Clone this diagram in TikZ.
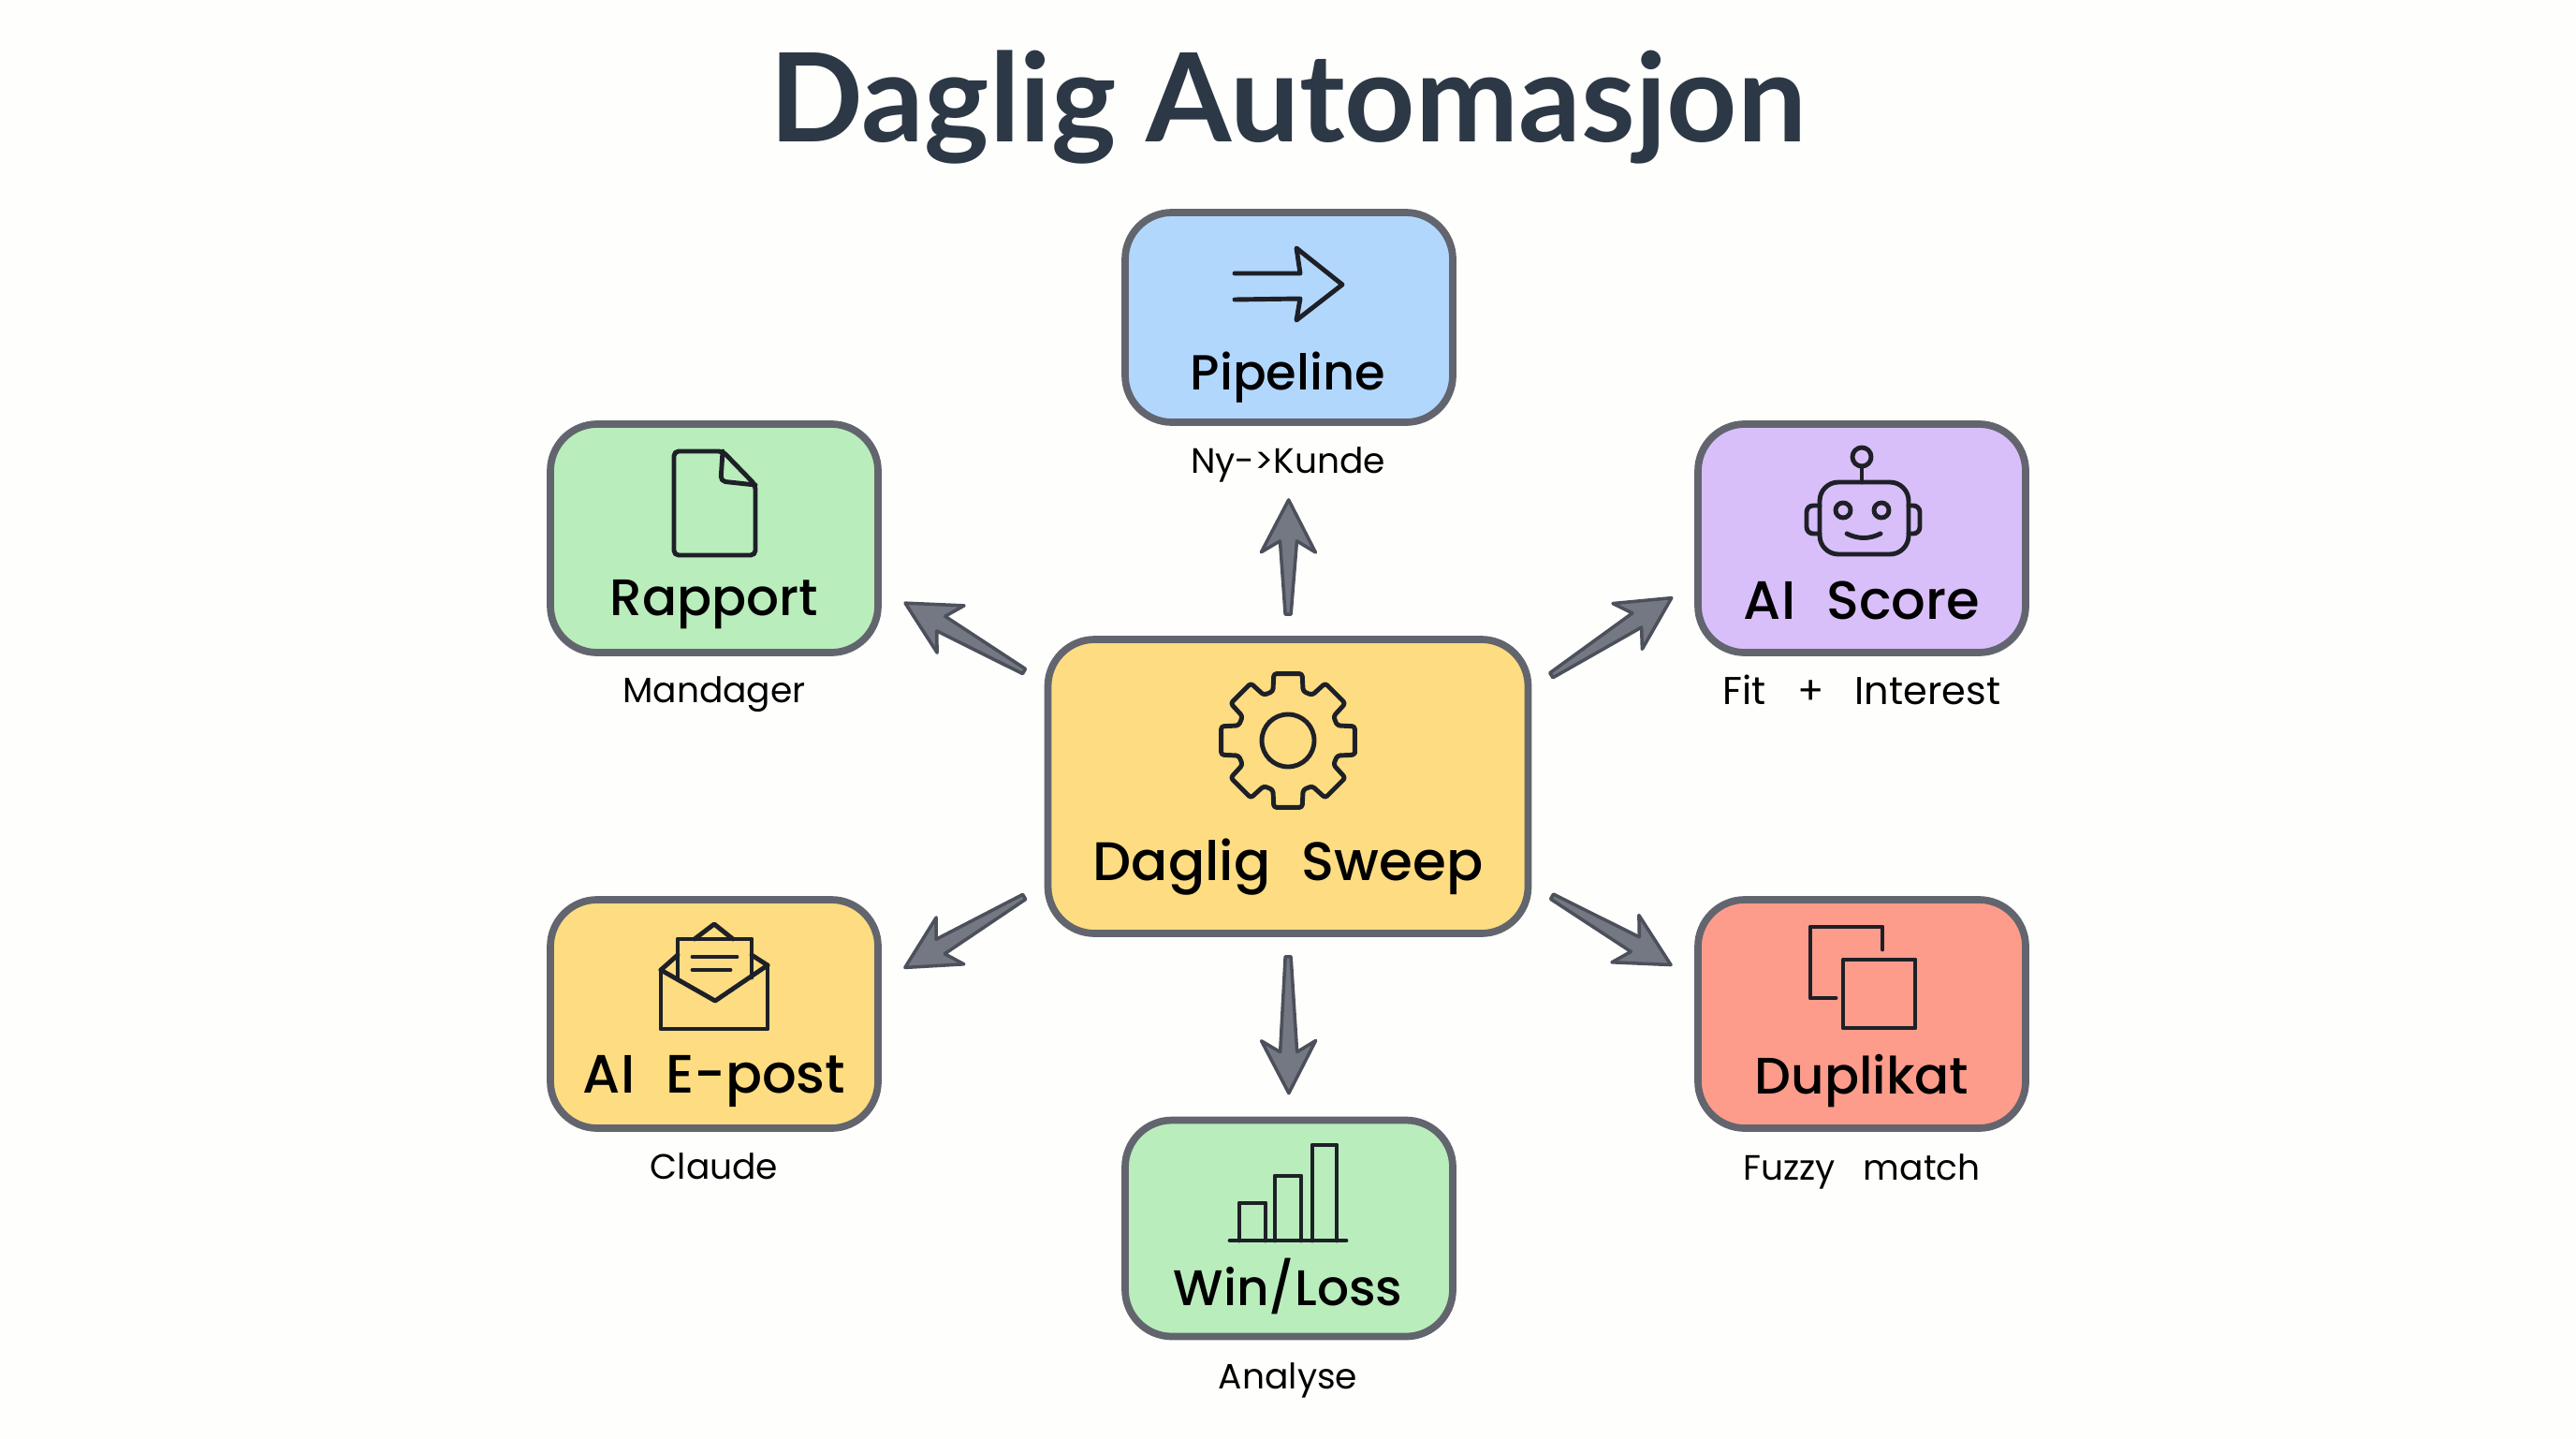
\documentclass[tikz,border=0pt]{standalone}
\usepackage{fontspec}
\usepackage{xcolor}
\usetikzlibrary{calc}
\setmainfont{Poppins}
\newfontfamily\namefont[WordSpace=2.2]{Poppins Medium}
\newfontfamily\notefont[WordSpace=3]{Poppins}
\newfontfamily\titlefont{Lato}

\definecolor{paper}{HTML}{FEFEFC}
\definecolor{inkline}{HTML}{62656E}
\definecolor{arrowfill}{HTML}{747883}
\definecolor{arrowline}{HTML}{4C505B}
\definecolor{titleink}{HTML}{2D3846}
\definecolor{iconink}{HTML}{1E2027}
\definecolor{boxblue}{HTML}{B2D7FD}
\definecolor{boxgreen}{HTML}{B9EDBC}
\definecolor{boxyellow}{HTML}{FDDC82}
\definecolor{boxpurple}{HTML}{D9BFFA}
\definecolor{boxred}{HTML}{FE9C8C}

\begin{document}
\begin{tikzpicture}[
    card/.style={
        rectangle,
        rounded corners=0.5cm,
        draw=inkline,
        line width=2.2pt,
        minimum width=3.5cm,
        minimum height=2.44cm,
        inner sep=0pt
    },
    cardname/.style={inner sep=0pt, text=black, font=\fontsize{15.6}{17}\namefont},
    cardnote/.style={inner sep=0pt, text=black, font=\fontsize{10.7}{12}\notefont},
    icon/.style={draw=iconink, line width=1.4pt, line join=round, line cap=round},
    flow/.style 2 args={
        fill=arrowfill,
        draw=arrowline,
        line width=1pt,
        line join=round,
        to path={
            ($(\tikztostart)!#1!(\tikztotarget)!0.03cm!90:(\tikztotarget)$)
            -- ($(\tikztotarget)!#2+0.44cm!(\tikztostart)!0.09cm!-90:(\tikztostart)$)
            -- ($(\tikztotarget)!#2+0.56cm!(\tikztostart)!0.29cm!-90:(\tikztostart)$)
            -- ($(\tikztotarget)!#2!(\tikztostart)$)
            -- ($(\tikztotarget)!#2+0.56cm!(\tikztostart)!0.29cm!90:(\tikztostart)$)
            -- ($(\tikztotarget)!#2+0.44cm!(\tikztostart)!0.09cm!90:(\tikztostart)$)
            -- ($(\tikztostart)!#1!(\tikztotarget)!0.03cm!-90:(\tikztotarget)$)
            -- cycle
        }
    }
]
    \useasboundingbox (0, 0) rectangle (27.52, -15.36);
    \fill[paper] (0, 0) rectangle (27.52, -15.36);

    \node (title) [inner sep=0pt, text=titleink, shift={(13.76, -1.15)}]
    {
        \fontsize{37.4}{44}\titlefont\bfseries Daglig Automasjon
    };


    \node (daglig_sweep) [card, fill=boxyellow, minimum width=5.13cm, minimum height=3.14cm, shift={(13.76, -8.40)}] {};
    \node (pipeline) [card, fill=boxblue, minimum height=2.24cm, shift={(13.77, -3.39)}] {};
    \node (rapport) [card, fill=boxgreen, shift={(7.63, -5.75)}] {};
    \node (ai_score) [card, fill=boxpurple, shift={(19.89, -5.75)}] {};
    \node (ai_epost) [card, fill=boxyellow, shift={(7.63, -10.83)}] {};
    \node (duplikat) [card, fill=boxred, shift={(19.89, -10.83)}] {};
    \node (win_loss) [card, fill=boxgreen, minimum height=2.31cm, shift={(13.77, -13.12)}] {};


    \node (daglig_sweep_name) [cardname, font=\fontsize{16.5}{20}\namefont, shift={(13.76, -9.26)}] {Daglig Sweep};
    \node (pipeline_name) [cardname, font=\fontsize{15}{17}\namefont, shift={(13.76, -4.03)}] {Pipeline};
    \node (rapport_name) [cardname, shift={(7.63, -6.46)}] {Rapport};
    \node (ai_score_name) [cardname, font=\fontsize{16.4}{17}\namefont, shift={(19.89, -6.41)}] {AI Score};
    \node (ai_epost_name) [cardname, font=\fontsize{16.4}{17}\namefont, shift={(7.63, -11.55)}] {AI E-post};
    \node (duplikat_name) [cardname, shift={(19.89, -11.55)}] {Duplikat};
    \node (win_loss_name) [cardname, font=\fontsize{15.2}{17}\namefont, shift={(13.76, -13.74)}] {Win/Loss};

    \node (pipeline_note) [cardnote, shift={(13.76, -4.96)}] {Ny->Kunde};
    \node (rapport_note) [cardnote, shift={(7.63, -7.42)}] {Mandager};
    \node (ai_score_note) [cardnote, font=\fontsize{11.8}{12}\notefont, shift={(19.89, -7.37)}] {Fit + Interest};
    \node (ai_epost_note) [cardnote, shift={(7.63, -12.46)}] {Claude};
    \node (duplikat_note) [cardnote, shift={(19.89, -12.51)}] {Fuzzy match};
    \node (win_loss_note) [cardnote, shift={(13.76, -14.74)}] {Analyse};


    % gear
    \draw[icon, rounded corners=0.03cm] ($(13.76, -7.91) + (-12:0.73)$)
        \foreach \a in {0, 45, ..., 315} {
            -- ($(13.76, -7.91) + (\a-12:0.73)$)
            -- ($(13.76, -7.91) + (\a+12:0.73)$)
            -- ($(13.76, -7.91) + (\a+17:0.55)$)
            -- ($(13.76, -7.91) + (\a+28:0.55)$)
        } -- cycle;
    \draw[icon] (13.76, -7.91) circle (0.28);

    % arrow
    \draw[icon] (13.19, -2.92) -- (13.89, -2.92) -- (13.85, -2.65) -- (14.34, -3.04)
        -- (13.85, -3.42) -- (13.89, -3.19) -- (13.19, -3.20);

    % document
    \draw[icon, rounded corners=0.05cm] (7.20, -4.82) -- (7.72, -4.82) -- (8.07, -5.18)
        -- (8.07, -5.93) -- (7.20, -5.93) -- cycle;
    \draw[icon, rounded corners=0.05cm] (7.72, -4.82) -- (7.70, -5.14) -- (8.07, -5.18);

    % robot
    \draw[icon, rounded corners=0.2cm] (19.44, -5.15) rectangle (20.39, -5.92);
    \draw[icon] (19.89, -4.88) circle (0.1);
    \draw[icon] (19.89, -4.98) -- (19.89, -5.15);
    \draw[icon, rounded corners=0.07cm] (19.44, -5.40) -- (19.30, -5.40) -- (19.30, -5.70) -- (19.44, -5.70);
    \draw[icon, rounded corners=0.07cm] (20.39, -5.40) -- (20.51, -5.40) -- (20.51, -5.70) -- (20.39, -5.70);
    \draw[icon] (19.69, -5.45) circle (0.08);
    \draw[icon] (20.10, -5.45) circle (0.08);
    \draw[icon] (19.73, -5.70) .. controls (19.85, -5.76) and (19.97, -5.76) .. (20.09, -5.70);

    % envelope
    \draw[icon] (7.06, -10.36) -- (7.06, -10.99) -- (8.20, -10.99) -- (8.20, -10.31);
    \draw[icon] (7.06, -10.36) -- (7.64, -10.69) -- (8.20, -10.31);
    \draw[icon] (7.06, -10.36) -- (7.24, -10.20);
    \draw[icon] (8.20, -10.31) -- (8.03, -10.20);
    \draw[icon] (7.24, -10.46) -- (7.24, -10.03) -- (8.03, -10.03) -- (8.03, -10.44);
    \draw[icon] (7.42, -10.03) -- (7.63, -9.87) -- (7.83, -10.03);
    \draw[icon] (7.40, -10.22) -- (7.87, -10.22);
    \draw[icon] (7.40, -10.36) -- (7.80, -10.36);

    % copies
    \draw[icon] (20.11, -10.14) -- (20.11, -9.90) -- (19.34, -9.90) -- (19.34, -10.66) -- (19.61, -10.66);
    \draw[icon] (19.69, -10.25) rectangle (20.46, -10.98);

    % bars
    \draw[icon] (13.14, -13.25) -- (14.38, -13.25);
    \draw[icon] (13.24, -13.25) -- (13.24, -12.85) -- (13.52, -12.85) -- (13.52, -13.25);
    \draw[icon] (13.62, -13.25) -- (13.62, -12.56) -- (13.90, -12.56) -- (13.90, -13.25);
    \draw[icon] (14.02, -13.25) -- (14.02, -12.23) -- (14.28, -12.23) -- (14.28, -13.25);


    \draw[flow={0.23cm}{0.79cm}] (daglig_sweep.north) to (pipeline.south);
    \draw[flow={0.25cm}{0.29cm}] (daglig_sweep.22.5) to (ai_score.195.5);
    \draw[flow={0.25cm}{0.29cm}] (daglig_sweep.338) to (duplikat.168);
    \draw[flow={0.21cm}{0.25cm}] (daglig_sweep.south) to (win_loss.north);
    \draw[flow={0.25cm}{0.29cm}] (daglig_sweep.202) to (ai_epost.11);
    \draw[flow={0.25cm}{0.29cm}] (daglig_sweep.157.5) to (rapport.343.6);


\end{tikzpicture}
\end{document}
